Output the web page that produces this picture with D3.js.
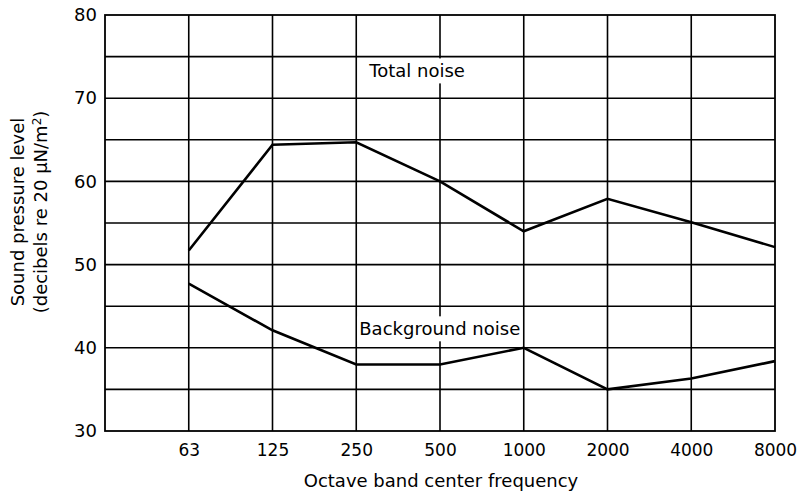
<!DOCTYPE html>
<html>
<head>
<meta charset="utf-8">
<script src="https://cdn.jsdelivr.net/npm/d3@7"></script>
<style>
  body { margin: 0; background: #fff; }
  svg { display: block; font-family: "DejaVu Sans", sans-serif; }
</style>
</head>
<body>
<div id="chart"></div>
<script>
// ---- data ----
const freqs = ["63", "125", "250", "500", "1000", "2000", "4000", "8000"];
const totalNoise = [51.7, 64.4, 64.7, 60.0, 54.0, 57.9, 55.1, 52.1];
const backgroundNoise = [47.7, 42.1, 38.0, 38.0, 40.0, 35.0, 36.3, 38.4];
const yTicks = [30, 40, 50, 60, 70, 80];
const yGrid = [35, 40, 45, 50, 55, 60, 65, 70, 75];
const labels = [
  { text: "Total noise", freq: "250", value: 72.5, dx: 13 },
  { text: "Background noise", freq: "250", value: 41.5, dx: 3 }
];

const W = 803, H = 503;
const plot = { left: 105, right: 775, top: 15, bottom: 431 };

const svg = d3.select("#chart").append("svg")
  .attr("width", W).attr("height", H);

// blank slot at the left edge so 63 sits one cell in
const x = d3.scalePoint()
  .domain([""].concat(freqs))
  .range([plot.left, plot.right]);
const y = d3.scaleLinear().domain([30, 80]).range([plot.bottom, plot.top]);

// grid
const grid = svg.append("g").attr("stroke", "#000").attr("stroke-width", 1.6);
grid.selectAll("line.h").data(yGrid).join("line")
  .attr("x1", plot.left).attr("x2", plot.right)
  .attr("y1", d => y(d)).attr("y2", d => y(d));
grid.selectAll("line.v").data(freqs.slice(0, -1)).join("line")
  .attr("x1", d => x(d)).attr("x2", d => x(d))
  .attr("y1", plot.top).attr("y2", plot.bottom);

// frame
svg.append("rect")
  .attr("x", plot.left).attr("y", plot.top)
  .attr("width", plot.right - plot.left).attr("height", plot.bottom - plot.top)
  .attr("fill", "none").attr("stroke", "#000").attr("stroke-width", 1.8);

// axes (labels only, the grid does the lines)
const yAxis = svg.append("g")
  .attr("transform", `translate(${plot.left},0)`)
  .call(d3.axisLeft(y).tickValues(yTicks).tickSize(0).tickPadding(8));
yAxis.select(".domain").remove();
yAxis.selectAll("text").attr("font-size", 18).attr("fill", "#000")
  .attr("font-family", "DejaVu Sans, sans-serif");

const xAxis = svg.append("g")
  .attr("transform", `translate(0,${plot.bottom})`)
  .call(d3.axisBottom(x).tickValues(freqs).tickSize(0).tickPadding(13));
xAxis.select(".domain").remove();
xAxis.selectAll("text").attr("font-size", 17).attr("fill", "#000")
  .attr("font-family", "DejaVu Sans, sans-serif");

// lines
const line = d3.line()
  .x((d, i) => x(freqs[i]))
  .y(d => y(d));

[totalNoise, backgroundNoise].forEach(series => {
  svg.append("path")
    .datum(series)
    .attr("d", line)
    .attr("fill", "none")
    .attr("stroke", "#000")
    .attr("stroke-width", 2.6)
    .attr("stroke-linejoin", "miter");
});

// series labels with white backing
labels.forEach(l => {
  const g = svg.append("g");
  const bg = g.append("rect").attr("fill", "#fff");
  const t = g.append("text")
    .attr("x", x(l.freq) + l.dx)
    .attr("y", y(l.value))
    .attr("font-size", 18)
    .attr("fill", "#000")
    .text(l.text);
  const bb = t.node().getBBox();
  bg.attr("x", bb.x - 2).attr("y", bb.y - 2)
    .attr("width", bb.width + 4).attr("height", bb.height + 4);
});

// axis titles
svg.append("text")
  .attr("x", 441).attr("y", 487)
  .attr("text-anchor", "middle")
  .attr("font-size", 18)
  .text("Octave band center frequency");

const yt = svg.append("text")
  .attr("transform", "translate(24,212) rotate(-90)")
  .attr("text-anchor", "middle")
  .attr("font-size", 18);
yt.append("tspan").attr("x", 0).attr("dy", 0).text("Sound pressure level");
yt.append("tspan").attr("x", 0).attr("dy", 23).text("(decibels  re 20 \u00b5N/m");
yt.append("tspan").attr("dy", -6).attr("font-size", 12).text("2");
yt.append("tspan").attr("dy", 6).text(")");
</script>
</body>
</html>
